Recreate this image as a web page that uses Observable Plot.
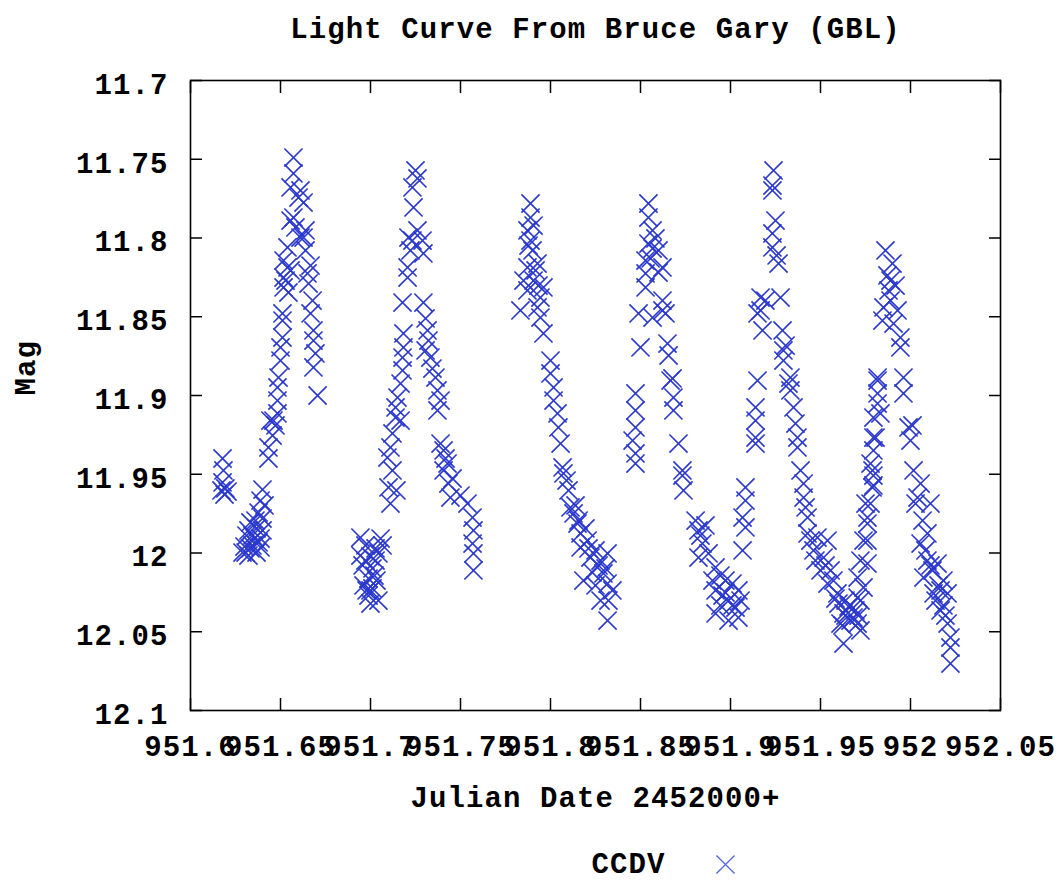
<!DOCTYPE html>
<html><head><meta charset="utf-8">
<script src="https://cdn.jsdelivr.net/npm/d3@7"></script>
<script src="https://cdn.jsdelivr.net/npm/@observablehq/plot@0.6"></script>
<style>
body{margin:0;background:#fff;}
#chart svg{display:block;}
</style></head><body>
<div id="chart"></div>
<script>
const titleText = "Light Curve From Bruce Gary (GBL)";
const xLabel = "Julian Date 2452000+";
const yLabel = "Mag";
const seriesName = "CCDV";
const xTicks = [951.6, 951.65, 951.7, 951.75, 951.8, 951.85, 951.9, 951.95, 952, 952.05];
const yTicks = [11.7, 11.75, 11.8, 11.85, 11.9, 11.95, 12, 12.05, 12.1];

// [JD - 2452000, magnitude]
const cycle1 = [
[951.6178,11.9400],[951.6183,11.9476],[951.6178,11.9552],[951.6194,11.9590],[951.6189,11.9629],[951.6206,11.9610],[951.6172,11.9603],
[951.6400,11.9597],[951.6389,11.9667],[951.6411,11.9698],[951.6378,11.9743],[951.6400,11.9781],[951.6333,11.9806],[951.6367,11.9844],[951.6400,11.9857],[951.6311,11.9889],[951.6356,11.9908],[951.6378,11.9933],[951.6300,11.9959],[951.6333,11.9971],[951.6367,11.9997],[951.6322,12.0016],[951.6289,11.9997],[951.6344,11.9952],[951.6389,11.9908],
[951.6361,11.9794],[951.6322,11.9857],[951.6389,11.9965],[951.6344,11.9889],[951.6306,11.9997],
[951.6433,11.9400],[951.6433,11.9330],[951.6456,11.9254],[951.6461,11.9159],[951.6483,11.9114],[951.6444,11.9159],[951.6472,11.9190],[951.6483,11.9032],[951.6483,11.8949],[951.6489,11.8886],[951.6500,11.8778],[951.6500,11.8695],[951.6511,11.8632],[951.6511,11.8524],[951.6511,11.8479],[951.6517,11.8314],[951.6517,11.8251],[951.6539,11.8187],[951.6517,11.8143],[951.6539,11.8060],
[951.6556,11.7889],[951.6583,11.7933],[951.6572,11.7870],[951.6611,11.7997],[951.6556,11.7679],[951.6572,11.7590],[951.6572,11.7489],[951.6611,11.7698],[951.6600,11.7743],[951.6628,11.7775],[951.6628,11.7997],[951.6639,11.7952],[951.6528,11.8270],[951.6556,11.8206],[951.6544,11.8346],
[951.6650,11.8225],[951.6656,11.8289],[951.6678,11.8397],[951.6667,11.8479],[951.6683,11.8587],[951.6683,11.8651],[951.6694,11.8733],[951.6683,11.8822],[951.6706,11.9000],[951.6639,11.8079],[951.6667,11.8175]
];
const cycle2 = [
[951.6944,11.9902],[951.7056,11.9908],[951.6972,11.9952],[951.7028,11.9971],[951.6944,12.0016],[951.7000,12.0022],[951.7044,12.0003],[951.6956,12.0079],[951.7011,12.0098],[951.6989,12.0162],[951.7033,12.0175],[951.6961,12.0206],[951.7011,12.0225],[951.6989,12.0270],[951.7044,12.0302],[951.7000,12.0321],[951.6978,12.0238],[951.7022,12.0143],
[951.6972,12.0048],[951.7028,12.0048],[951.7000,12.0238],[951.7067,11.9952],
[951.7111,11.9686],[951.7100,11.9584],[951.7094,11.9394],[951.7111,11.9330],[951.7122,11.9241],[951.7139,11.9140],[951.7139,11.9076],[951.7150,11.9013],[951.7167,11.8924],[951.7178,11.8841],[951.7178,11.8759],[951.7183,11.8695],[951.7183,11.8606],[951.7178,11.8410],[951.7294,11.8410],
[951.7211,11.7997],[951.7222,11.8079],[951.7206,11.8187],[951.7206,11.8251],[951.7289,11.8016],[951.7294,11.8098],[951.7261,11.7952],[951.7250,11.7571],[951.7233,11.7679],[951.7239,11.7806],[951.7261,11.7622],[951.7233,11.8016],[951.7144,11.9603],[951.7122,11.9476],[951.7167,11.9159],
[951.7317,11.8587],[951.7322,11.8651],[951.7306,11.8714],[951.7333,11.8759],[951.7361,11.8886],[951.7372,11.8968],[951.7372,11.9095],[951.7389,11.9305],[951.7406,11.9349],[951.7428,11.9432],[951.7406,11.9476],[951.7433,11.9559],[951.7444,11.9648],[951.7539,11.9686],[951.7567,11.9775],[951.7572,11.9857],[951.7567,11.9940],[951.7572,12.0003],[951.7572,12.0111],[951.7306,11.8511],[951.7344,11.8829],[951.7389,11.9032],[951.7456,11.9527],[951.7417,11.9400],[951.7500,11.9635]
];
const cycle3 = [
[951.7889,11.7781],[951.7889,11.7870],[951.7872,11.7952],[951.7889,11.8016],[951.7900,11.8079],[951.7928,11.8162],[951.7872,11.8187],[951.7850,11.8270],[951.7906,11.8270],[951.7961,11.8314],[951.7872,11.8333],[951.7944,11.8378],[951.7833,11.8460],[951.7928,11.8441],[951.7944,11.8505],[951.7961,11.8606],[951.7917,11.8206],[951.7878,11.8048],[951.7906,11.7921],[951.7933,11.8302],
[951.8000,11.8778],[951.8000,11.8860],[951.8017,11.8949],[951.8017,11.9032],[951.8039,11.9114],[951.8044,11.9203],[951.8056,11.9305],[951.8067,11.9457],[951.8072,11.9495],[951.8100,11.9603],[951.8111,11.9711],[951.8128,11.9749],[951.8150,11.9813],[951.8167,11.9876],[951.8167,11.9965],[951.8206,11.9921],[951.8317,12.0003],[951.8222,12.0029],[951.8294,12.0130],[951.8317,12.0194],[951.8183,12.0175],[951.8278,12.0302],[951.8317,12.0429],
[951.8089,11.9540],[951.8139,11.9698],[951.8194,11.9844],[951.8250,11.9984],[951.8267,12.0079],[951.8344,12.0238],[951.8250,12.0206],[951.8156,11.9794],
[951.8211,11.9971],[951.8278,12.0048],[951.8306,12.0098],[951.8233,12.0124],[951.8322,12.0302]
];
const cycle4 = [
[951.8472,11.8987],[951.8472,11.9095],[951.8472,11.9203],[951.8456,11.9286],[951.8472,11.9368],[951.8472,11.9432],[951.8489,11.8479],[951.8500,11.8695],
[951.8544,11.7781],[951.8544,11.7870],[951.8567,11.7952],[951.8544,11.8035],[951.8600,11.8079],[951.8528,11.8143],[951.8622,11.8187],[951.8528,11.8225],[951.8528,11.8314],[951.8622,11.8397],[951.8622,11.8460],[951.8639,11.8479],[951.8567,11.8505],[951.8583,11.8003],[951.8567,11.8067],[951.8600,11.8219],[951.8556,11.8130],
[951.8650,11.8670],[951.8667,11.8905],[951.8683,11.9013],[951.8683,11.9095],[951.8711,11.9305],[951.8733,11.9476],[951.8739,11.9603],[951.8656,11.8746],[951.8678,11.8892],[951.8733,11.9508],
[951.8806,11.9794],[951.8822,11.9857],[951.8844,11.9940],[951.8878,12.0003],[951.8822,12.0029],[951.8917,12.0092],[951.8900,12.0175],[951.8972,12.0175],[951.9011,12.0194],[951.8917,12.0238],[951.9044,12.0238],[951.8989,12.0302],[951.9028,12.0346],[951.8917,12.0384],[951.8989,12.0429],[951.9044,12.0410],[951.8861,11.9825],[951.8833,11.9889],[951.8944,12.0143],[951.8956,12.0270],
[951.8972,12.0251],[951.9011,12.0333],[951.8944,12.0333],[951.9056,12.0302],
[951.9083,11.9584],[951.9083,11.9667],[951.9067,11.9775],[951.9083,11.9838],[951.9067,11.9984]
];
const cycle5 = [
[951.9239,11.7571],[951.9233,11.7698],[951.9250,11.7889],[951.9233,11.7971],[951.9233,11.8060],[951.9267,11.8162],[951.9167,11.8378],[951.9278,11.8378],[951.9167,11.8460],[951.9150,11.8479],[951.9178,11.8587],[951.9289,11.8587],[951.9294,11.8714],[951.9294,11.8778],[951.9333,11.8886],[951.9333,11.8968],[951.9350,11.9076],[951.9361,11.9178],[951.9372,11.9267],[951.9372,11.9330],
[951.9150,11.8905],[951.9139,11.9076],[951.9139,11.9159],[951.9139,11.9267],[951.9139,11.9305],[951.9194,11.8397],[951.9233,11.7667],[951.9306,11.8683],[951.9322,11.8924],[951.9256,11.8111],
[951.9389,11.9476],[951.9406,11.9559],[951.9406,11.9648],[951.9417,11.9711],[951.9428,11.9775],[951.9428,11.9876],[951.9483,11.9902],[951.9539,11.9921],[951.9461,11.9984],[951.9517,12.0029],[951.9500,12.0111],[951.9556,12.0111],[951.9539,12.0194],[951.9594,12.0257],[951.9628,12.0384],[951.9683,12.0410],[951.9611,12.0448],[951.9628,12.0575],[951.9722,12.0492],
[951.9444,11.9921],[951.9472,12.0048],[951.9528,12.0079],[951.9572,12.0175],[951.9600,12.0321],[951.9656,12.0340],[951.9667,12.0429],[951.9694,12.0365],[951.9583,12.0289],[951.9639,12.0302],
[951.9639,12.0397],[951.9667,12.0333],[951.9711,12.0397],[951.9622,12.0460]
];
const cycle6 = [
[951.9722,12.0302],[951.9739,12.0219],[951.9761,12.0067],[951.9761,11.9921],[951.9761,11.9813],[951.9778,11.9686],[951.9789,11.9584],[951.9789,11.9476],[951.9794,11.9349],[951.9806,11.9267],[951.9794,11.9140],[951.9817,11.9051],[951.9817,11.8905],[951.9706,12.0156],[951.9706,12.0283],[951.9706,12.0448],[951.9722,12.0048],[951.9739,11.9921],[951.9750,11.9686],[951.9761,11.9775],[951.9778,11.9432],[951.9794,11.9508],[951.9794,11.9571],[951.9833,11.9114],[951.9794,11.9267],[951.9817,11.8987],[951.9817,11.8886],
[951.9861,11.8079],[951.9900,11.8162],[951.9889,11.8270],[951.9878,11.8333],[951.9850,11.8441],[951.9928,11.8460],[951.9844,11.8524],[951.9906,11.8543],[951.9944,11.8632],[951.9944,11.8695],[951.9872,11.8238],[951.9917,11.8302],[951.9889,11.8397],[951.9961,11.8886],[951.9961,11.8987],[951.9989,11.9203],[952.0000,11.9286],[952.0011,11.9190],
[952.0017,11.9476],[952.0056,11.9559],[952.0039,11.9648],[952.0111,11.9686],[952.0094,11.9876],[952.0056,11.9940],[952.0094,12.0048],[952.0150,12.0067],[952.0072,12.0156],[952.0183,12.0175],[952.0128,12.0257],[952.0206,12.0257],[952.0167,12.0365],[952.0206,12.0448],[952.0222,12.0537],[952.0222,12.0600],[952.0222,12.0702],[952.0028,11.9686],[952.0067,11.9794],[952.0083,11.9984],[952.0122,12.0111],[952.0156,12.0206],[952.0139,12.0302],[952.0183,12.0333],
[952.0111,12.0079],[952.0167,12.0238],[952.0194,12.0397]
];

const points = [...cycle1, ...cycle2, ...cycle3, ...cycle4, ...cycle5, ...cycle6]
  .map(([jd, mag]) => ({jd, mag}));

const FONT = "'Liberation Mono', 'DejaVu Sans Mono', monospace";
const FS = 29;
const BLUE = "#2b38cc";
const fmt = d3.format("~g");

const chart = Plot.plot({
  width: 1059,
  height: 880,
  marginTop: 80,
  marginLeft: 190,
  marginRight: 59,
  marginBottom: 170,
  style: {fontFamily: FONT, fontSize: FS + "px", fontWeight: "bold", letterSpacing: "1.1px", color: "#000", background: "#fff"},
  x: {domain: [xTicks[0], xTicks[xTicks.length - 1]]},
  y: {domain: [yTicks[0], yTicks[yTicks.length - 1]], reverse: true},
  marks: [
    Plot.dot(points, {x: "jd", y: "mag", symbol: "times", r: 8.3, stroke: BLUE, strokeWidth: 1.6}),
    Plot.frame({stroke: "#000", strokeWidth: 1.6}),
    Plot.axisX(xTicks, {anchor: "bottom", tickSize: -12, fill: "none", strokeWidth: 1.5, label: null}),
    Plot.axisX(xTicks, {anchor: "top", tickSize: -12, fill: "none", strokeWidth: 1.5, label: null}),
    Plot.axisY(yTicks, {anchor: "left", tickSize: -12, fill: "none", strokeWidth: 1.5, label: null}),
    Plot.axisY(yTicks, {anchor: "right", tickSize: -12, fill: "none", strokeWidth: 1.5, label: null}),
    Plot.axisX(xTicks, {anchor: "bottom", tickSize: 0, tickPadding: 25, tickFormat: fmt, label: null, fontSize: FS, fontWeight: "bold"}),
    Plot.axisY(yTicks, {anchor: "left", tickSize: 0, tickPadding: 22, tickFormat: fmt, label: null, dy: 4, fontSize: FS, fontWeight: "bold"}),
    Plot.text([titleText], {frameAnchor: "top", dy: -52, lineAnchor: "middle", fontSize: FS, fontWeight: "bold", fill: "#000"}),
    Plot.text([xLabel], {frameAnchor: "bottom", dy: 87, lineAnchor: "middle", fontSize: FS, fontWeight: "bold", fill: "#000"}),
    Plot.text([yLabel], {frameAnchor: "left", dx: -165, rotate: -90, lineAnchor: "middle", fontSize: FS, fontWeight: "bold", fill: "#000"}),
    Plot.text([seriesName], {frameAnchor: "bottom", dx: 70, dy: 153, textAnchor: "end", lineAnchor: "middle", fontSize: FS, fontWeight: "bold", fill: "#000"}),
    Plot.dot([seriesName], {frameAnchor: "bottom", dx: 130, dy: 154, symbol: "times", r: 8.3, stroke: "#5566dd", strokeWidth: 1.3})
  ]
});
document.getElementById("chart").appendChild(chart);
</script>
</body></html>
